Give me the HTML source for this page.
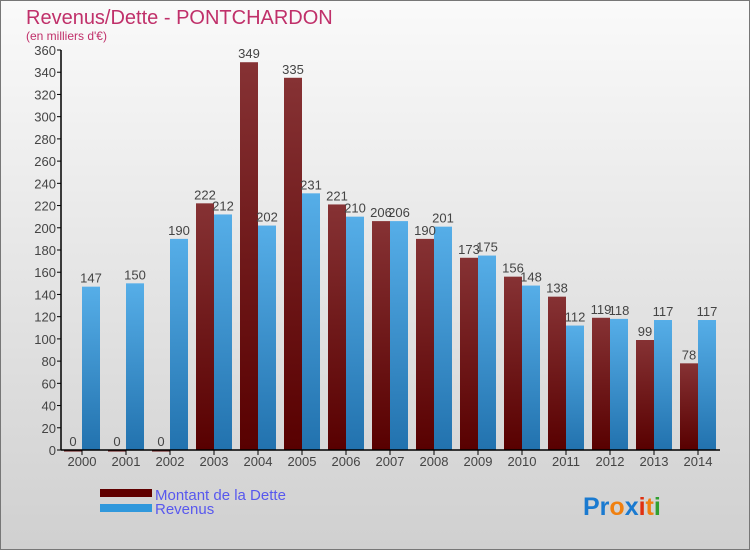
<!DOCTYPE html>
<html><head><meta charset="utf-8"><style>
body{margin:0;width:750px;height:550px;overflow:hidden;font-family:"Liberation Sans",sans-serif}
</style></head><body>
<svg width="750" height="550" xmlns="http://www.w3.org/2000/svg">
<defs>
<linearGradient id="bg" x1="0" y1="0" x2="0" y2="1"><stop offset="0" stop-color="#fafafa"/><stop offset="1" stop-color="#d0d0d0"/></linearGradient>
<linearGradient id="gd" x1="0" y1="0" x2="0" y2="1"><stop offset="0" stop-color="#863234"/><stop offset="1" stop-color="#580000"/></linearGradient>
<linearGradient id="gr" x1="0" y1="0" x2="0" y2="1"><stop offset="0" stop-color="#56aee8"/><stop offset="1" stop-color="#2272ae"/></linearGradient>
</defs>
<rect x="0.5" y="0.5" width="749" height="549" fill="url(#bg)" stroke="#777"/>
<text x="26" y="24" font-size="20" fill="#c0306a">Revenus/Dette - PONTCHARDON</text>
<text x="26" y="40" font-size="12" fill="#c0306a">(en milliers d'€)</text>
<g id="plot"></g>
<rect x="100" y="489" width="52" height="8" fill="#600000"/>
<rect x="100" y="504" width="52" height="8" fill="#3098dc"/>
<text x="155" y="500" font-size="15" fill="#5858ee">Montant de la Dette</text>
<text x="155" y="514" font-size="15" fill="#5858ee">Revenus</text>
<text x="583" y="515" font-size="25" font-weight="bold"><tspan fill="#1a7ad0">Pr</tspan><tspan fill="#f08010">o</tspan><tspan fill="#1a7ad0">x</tspan><tspan fill="#e03010">i</tspan><tspan fill="#f08010">t</tspan><tspan fill="#30a030">i</tspan></text>
</svg>
<script>
const years=["2000","2001","2002","2003","2004","2005","2006","2007","2008","2009","2010","2011","2012","2013","2014"];
const dette=[0,0,0,222,349,335,221,206,190,173,156,138,119,99,78];
const revenus=[147,150,190,212,202,231,210,206,201,175,148,112,118,117,117];
const ticks=[0,20,40,60,80,100,120,140,160,180,200,220,240,260,280,300,320,340,360];
const NS="http://www.w3.org/2000/svg";
const g=document.getElementById('plot');
const y=v=>450-v*400/360;
const xc=i=>82+44*i;
function mk(t,a,txt){const e=document.createElementNS(NS,t);for(const k in a)e.setAttribute(k,a[k]);if(txt!==undefined)e.textContent=txt;g.appendChild(e);return e;}
ticks.forEach(t=>{
 const l=mk('line',{x1:57,x2:61,y1:y(t),y2:y(t),stroke:'#000'});
 
 
 const tx=mk('text',{x:56,y:y(t)+5,'font-size':13,fill:'#444','text-anchor':'end'},String(t));
 
 
});
years.forEach((yr,i)=>{
 const c=xc(i);
 const b1=mk('rect',{x:c-18,y:y(dette[i]),width:18,height:Math.max(450-y(dette[i]),1.5),fill:'url(#gd)'});
 
 
 const b2=mk('rect',{x:c,y:y(revenus[i]),width:18,height:450-y(revenus[i]),fill:'url(#gr)'});
 
 
 const t1=mk('text',{x:c-9,y:y(dette[i])-4,'font-size':13,fill:'#444','text-anchor':'middle'},String(dette[i]));
 
 
 const t2=mk('text',{x:c+9,y:y(revenus[i])-4,'font-size':13,fill:'#444','text-anchor':'middle'},String(revenus[i]));
 
 
 const tk=mk('line',{x1:c,x2:c,y1:450,y2:455,stroke:'#000'});
 
 
 const xl=mk('text',{x:c,y:466,'font-size':13,fill:'#444','text-anchor':'middle'},yr);
 
 
});
const ya=mk('line',{x1:61,x2:61,y1:50,y2:450,stroke:'#000','stroke-width':1.5});


const xa=mk('line',{x1:61,x2:720,y1:450,y2:450,stroke:'#000','stroke-width':1.5});


</script>
</body></html>
